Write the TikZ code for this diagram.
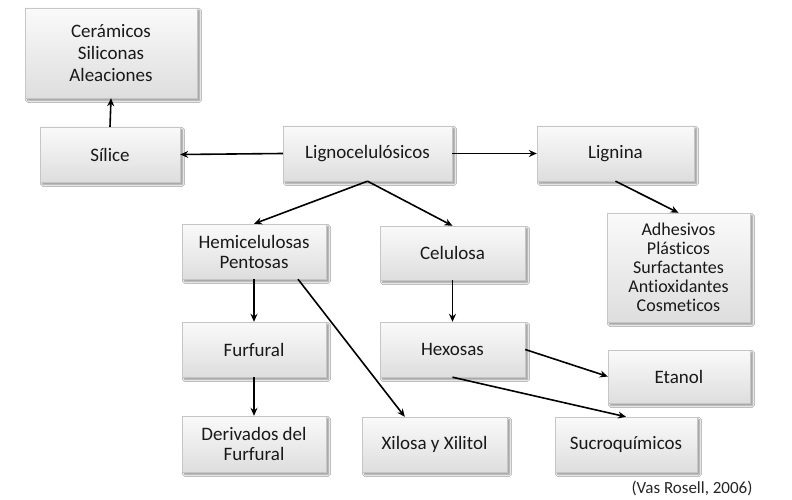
\documentclass[tikz,border=0pt]{standalone}
\usepackage{fontspec}
\setmainfont{Carlito}[Ligatures=NoCommon]
\usetikzlibrary{arrows.meta,shadows.blur,calc}
\begin{document}
\begin{tikzpicture}[x=1pt,y=-1pt,
  box/.style={draw=gray!45,line width=0.4pt,top color=black!2,bottom color=black!13,
    blur shadow={shadow xshift=2.5pt,shadow yshift=-2.5pt,shadow blur steps=6,shadow opacity=45},
    align=center,inner sep=2pt,font=\fontsize{19}{20}\selectfont,text=black!90},
  arr/.style={-{Stealth[length=8pt,width=7pt]},line width=1.6pt,black}]
\useasboundingbox[fill=white] (0,0) rectangle (792,500);
\node[box,minimum width=172pt,minimum height=90pt,font=\fontsize{19}{22}\selectfont] (cer) at (111,53) {Cerámicos\\Siliconas\\Aleaciones};
\node[box,minimum width=140pt,minimum height=55pt] (sil) at (110,154.5) {Sílice};
\node[box,minimum width=169pt,minimum height=55pt] (lig) at (367.5,153.5) {Lignocelulósicos};
\node[box,minimum width=157pt,minimum height=55pt] (lgn) at (615.5,153.5) {Lignina};
\node[box,minimum width=144pt,minimum height=55pt] (hem) at (254,251.5) {Hemicelulosas\\Pentosas};
\node[box,minimum width=145pt,minimum height=54pt] (cel) at (452.5,253) {Celulosa};
\node[box,minimum width=143pt,minimum height=109pt,font=\fontsize{18}{19}\selectfont] (adh) at (678.5,267.5) {Adhesivos\\Plásticos\\Surfactantes\\Antioxidantes\\Cosmeticos};
\node[box,minimum width=144pt,minimum height=55pt] (fur) at (254,349.5) {Furfural};
\node[box,minimum width=145pt,minimum height=55pt] (hex) at (452.5,349.5) {Hexosas};
\node[box,minimum width=142pt,minimum height=53pt] (eta) at (679,376.5) {Etanol};
\node[box,minimum width=144pt,minimum height=56pt] (der) at (254,444) {Derivados del\\Furfural};
\node[box,minimum width=145pt,minimum height=55pt] (xil) at (434.5,444.5) {Xilosa y Xilitol};
\node[box,minimum width=142pt,minimum height=55pt] (suc) at (626,444.5) {Sucroquímicos};
\node[font=\fontsize{17}{19}\selectfont,text=black!85] (cit) at (692,488) {(Vas Rosell, 2006)};
\draw[arr] (sil.north) -- (cer.south);
\draw[arr] (lig.west) -- (sil.east);
\draw[arr] (lig.east) -- (lgn.west);
\draw[arr] (lig.south) -- (hem.north);
\draw[arr] (lig.south) -- (cel.north);
\draw[arr] (lgn.south) -- (adh.north);
\draw[arr] (hem.south) -- (fur.north);
\draw[arr] ($(hem.south)+(44,0)$) -- ($(xil.north west)+(43,0)$);
\draw[arr] (cel.south) -- (hex.north);
\draw[arr] (fur.south) -- (der.north);
\draw[arr] (hex.east) -- (eta.west);
\draw[arr] (hex.south) -- (suc.north);
\end{tikzpicture}
\end{document}
